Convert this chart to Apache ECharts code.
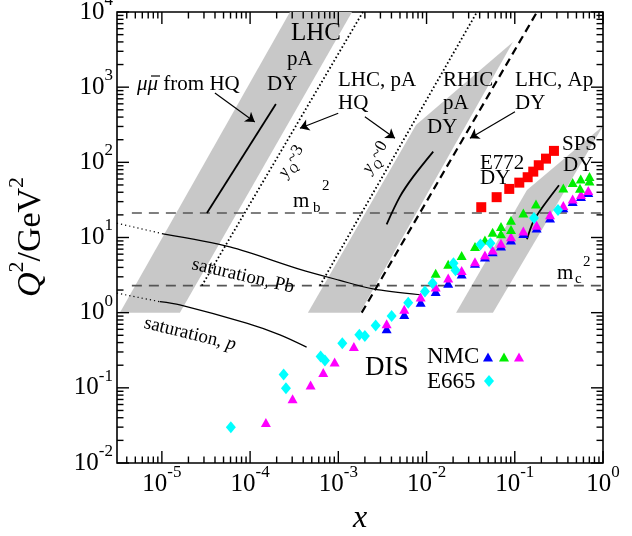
<!DOCTYPE html>
<html><head><meta charset="utf-8">
<script src="https://cdn.jsdelivr.net/npm/echarts@6/dist/echarts.min.js"></script>
<style>html,body{margin:0;padding:0;background:#fff}#c{width:632px;height:536px}</style>
</head><body><div id="c"></div>
<script>
// ---------------- axes ----------------
const xMin = 3.1e-6, xMax = 1;
const yMin = 1e-2, yMax = 1e4;
const xMajorTicks = [1e-5, 1e-4, 1e-3, 1e-2, 1e-1, 1];
const yMajorTicks = [1e-2, 1e-1, 1, 10, 100, 1000, 10000];
const minorMultipliers = [2, 3, 4, 5, 6, 7, 8, 9];

// ---------------- data: DIS ----------------
const e665X = [6.05e-5, 2.40e-4, 2.55e-4, 6.30e-4, 7.05e-4, 1.11e-3, 1.73e-3, 2.00e-3, 2.65e-3, 4.02e-3, 6.20e-3, 9.59e-3, 0.0117, 0.0202, 0.0213, 0.0408, 0.0530, 0.165, 0.309];
const e665Y = [0.030, 0.150, 0.099, 0.261, 0.231, 0.393, 0.507, 0.491, 0.674, 0.906, 1.36, 1.91, 2.47, 4.55, 3.67, 8.05, 8.40, 18.2, 23.3];

const nmcBlueX = [3.53e-3, 5.59e-3, 8.57e-3, 0.0127, 0.0176, 0.0250, 0.0354, 0.0459, 0.0561, 0.0698, 0.0906, 0.125, 0.177, 0.251, 0.355, 0.453, 0.563, 0.681];
const nmcBlueY = [0.609, 0.949, 1.38, 1.91, 2.47, 3.28, 4.55, 5.52, 6.44, 7.73, 9.29, 11.3, 13.4, 18.2, 24.8, 30.2, 35.2, 39.8];

const nmcMagX = [1.51e-4, 3.03e-4, 4.85e-4, 6.75e-4, 9.08e-4, 1.50e-3, 3.53e-3, 5.59e-3, 8.57e-3, 0.0127, 0.0176, 0.0250, 0.0354, 0.0459, 0.0561, 0.0698, 0.0906, 0.125, 0.177, 0.251, 0.355, 0.453, 0.563, 0.681];
const nmcMagY = [0.0346, 0.0714, 0.109, 0.160, 0.220, 0.354, 0.710, 1.11, 1.62, 2.20, 2.90, 3.65, 4.74, 5.87, 6.84, 8.40, 10.2, 12.2, 14.5, 20.0, 26.7, 32.6, 37.4, 42.3];

const nmcGreenX = [0.0127, 0.0176, 0.0250, 0.0354, 0.0459, 0.0561, 0.0698, 0.0698, 0.0906, 0.0906, 0.125, 0.174, 0.355, 0.453, 0.549, 0.559, 0.703, 0.703];
const nmcGreenY = [3.35, 4.42, 5.78, 7.61, 9.29, 11.7, 14.0, 11.2, 16.9, 12.8, 21.2, 28.0, 45.7, 54.0, 45.3, 60.1, 65.0, 56.6];

// ---------------- data: Drell-Yan E772 ----------------
const e772X = [0.0417, 0.0623, 0.0866, 0.1125, 0.140, 0.162, 0.187, 0.226, 0.278];
const e772Y = [25.3, 34.4, 44.3, 53.7, 63.4, 75.2, 91.5, 112, 142];

// ---------------- kinematic bands (x, Q^2 vertices) ----------------
const bandLHC = [[3.34e-6, 1], [1.60e-5, 1], [1.43e-3, 1e4], [2.83e-4, 1e4]];
const bandRHIC = [[4.52e-4, 1], [1.76e-3, 1], [0.0954, 3990], [7.59e-3, 314]];
const bandSPS = [[0.0216, 1], [0.0566, 1], [1, 305], [0.1375, 43.0]];

// ---------------- curves ----------------
const mb2 = 21.2, mc2 = 2.29;
const mb2Line = [[4.57e-6, mb2], [1, mb2]];
const mc2Line = [[4.57e-6, mc2], [1, mc2]];
const muHQLine = [[3.24e-5, 21.2], [1.96e-4, 598]];
const yq3Line = [[2.84e-5, mc2], [1.90e-3, 1e4]];
const yq0Line = [[6.18e-4, mc2], [0.0373, 1e4]];
const dashedLine = [[1.84e-3, 1], [0.1786, 1e4]];
const rhicCurve = [[3.53e-3, 15.0], [4.99e-3, 35.0], [7.07e-3, 64.5], [0.0119, 139]];
const spsCurve = [[0.1375, 9.5], [0.162, 16.3], [0.202, 24.5], [0.317, 49.6]];
const satPbDotted = [[3.09e-6, 15.5], [1.03e-5, 11.2]];
const satPbSolid = [[1.03e-5, 11.2], [5.90e-5, 7.50], [3.67e-4, 3.77], [1.04e-3, 2.69], [2.47e-3, 2.07], [8.41e-3, 1.73]];
const satPDotted = [[3.09e-6, 1.82], [9.49e-6, 1.40]];
const satPSolid = [[9.49e-6, 1.40], [1.60e-5, 1.27], [9.12e-5, 0.725], [2.18e-4, 0.507], [4.37e-4, 0.348]];
const arrows = [
  [[3.99e-5, 837], [1.13e-4, 345]],
  [[9.97e-4, 450], [3.67e-4, 284]],
  [[2.00e-3, 405], [4.38e-3, 209]],
  [[0.1005, 472], [0.0310, 209]]
];

// ---------------- build ----------------
const FONT = '"Liberation Serif", "Times New Roman", serif';
const zip = (a, b) => a.map((v, i) => [v, b[i]]);
const bands = [bandLHC, bandRHIC, bandSPS];

const tickData = [];
xMajorTicks.forEach(v => tickData.push([v, 1, 0]));
yMajorTicks.forEach(v => tickData.push([0.01, v, 2]));
for (let d = -6; d < 0; d++) minorMultipliers.forEach(m => {
  const v = m * Math.pow(10, d);
  if (v > xMin && v < xMax) tickData.push([v, 1, 1]);
});
for (let d = -2; d < 4; d++) minorMultipliers.forEach(m => {
  tickData.push([0.01, m * Math.pow(10, d), 3]);
});

function powLabel(v) {
  const l = Math.log10(v), e = Math.round(l);
  if (Math.abs(l - e) > 1e-6) return '';
  return '{b|10}{s|' + e + '}';
}
const labelRich = {
  b: { fontFamily: FONT, fontSize: 25, color: '#000', lineHeight: 40 },
  s: { fontFamily: FONT, fontSize: 17, color: '#000', lineHeight: 20, verticalAlign: 'top' }
};

function line(data, color, width, type, z) {
  return { type: 'line', data, symbol: 'none', showSymbol: false, silent: true, z: z || 3,
    lineStyle: { color, width, type: type || 'solid' } };
}
function scatter(data, symbol, size, color, z) {
  return { type: 'scatter', data, symbol, symbolSize: size, silent: true, z: z || 5,
    itemStyle: { color, opacity: 1 } };
}

function txt(x, y, text, size, opt) {
  opt = opt || {};
  return { type: 'text', x, y, rotation: opt.rot || 0, z: 100, silent: true,
    style: { text, fill: '#000', font: (opt.italic ? 'italic ' : '') + size + 'px ' + FONT,
      textAlign: opt.align || 'left', textVerticalAlign: 'middle', rich: opt.rich } };
}
const graphics = [
  txt(291, 33, 'LHC', 25),
  txt(287, 59, 'pA', 21),
  txt(267, 84, 'DY', 21),
  txt(137, 84, '{i|μμ} from HQ', 21, { rich: { i: { fontFamily: FONT, fontSize: 21, fontStyle: 'italic' } } }),
  { type: 'line', z: 100, shape: { x1: 151, y1: 76, x2: 160, y2: 76 }, style: { stroke: '#000', lineWidth: 1.2 } },
  txt(338, 80, 'LHC, pA', 21),
  txt(338, 103, 'HQ', 21),
  txt(443, 80, 'RHIC', 21),
  txt(443, 103, 'pA', 21),
  txt(427, 127, 'DY', 21),
  txt(515, 80, 'LHC, Ap', 21),
  txt(515, 103, 'DY', 21),
  txt(562, 144, 'SPS', 21),
  txt(563, 165, 'DY', 21),
  txt(480, 163, 'E772', 21),
  txt(480, 178, 'DY', 21),
  txt(365, 368, 'DIS', 27),
  txt(427, 357, 'NMC', 23),
  txt(427, 382, 'E665', 23),
  txt(293, 201, 'm', 21), txt(313, 208, 'b', 15), txt(322, 186, '2', 15),
  txt(557, 273, 'm', 21), txt(575, 279, 'c', 15), txt(583, 262, '2', 15),
  txt(243, 276, 'saturation, Pb', 19, { align: 'center', rot: -0.229 }),
  txt(190, 334, '{n|saturation, }{i|p}', 19, { align: 'center', rot: -0.24, rich: {
    n: { fontFamily: FONT, fontSize: 19 }, i: { fontFamily: FONT, fontSize: 19, fontStyle: 'italic' } } }),
  txt(291, 161, '{i|y}{q|Q}{n|~3}', 17, { align: 'center', rot: 1.04, rich: {
    i: { fontFamily: FONT, fontSize: 17, fontStyle: 'italic' },
    q: { fontFamily: FONT, fontSize: 12, fontStyle: 'italic', verticalAlign: 'bottom', lineHeight: 26 },
    n: { fontFamily: FONT, fontSize: 17 } } }),
  txt(375, 157, '{i|y}{q|Q}{n|~0}', 17, { align: 'center', rot: 1.04, rich: {
    i: { fontFamily: FONT, fontSize: 17, fontStyle: 'italic' },
    q: { fontFamily: FONT, fontSize: 12, fontStyle: 'italic', verticalAlign: 'bottom', lineHeight: 26 },
    n: { fontFamily: FONT, fontSize: 17 } } }),
  txt(31, 237, '{q|Q}{s|2}{n|/GeV}{s|2}', 34, { align: 'center', rot: Math.PI / 2, rich: {
    q: { fontFamily: FONT, fontSize: 34, fontStyle: 'italic', lineHeight: 50 },
    n: { fontFamily: FONT, fontSize: 34, lineHeight: 50 },
    s: { fontFamily: FONT, fontSize: 22, verticalAlign: 'top', lineHeight: 28 } } }),
  txt(360, 519, 'x', 32, { align: 'center', italic: true }),
  // legend symbols
  { type: 'polygon', z: 100, shape: { points: [[483, 361.5], [493, 361.5], [488, 352.5]] }, style: { fill: '#0000ff' } },
  { type: 'polygon', z: 100, shape: { points: [[499, 361.5], [509, 361.5], [504, 352.5]] }, style: { fill: '#00ee00' } },
  { type: 'polygon', z: 100, shape: { points: [[514, 361.5], [524, 361.5], [519, 352.5]] }, style: { fill: '#ff00ff' } },
  { type: 'polygon', z: 100, shape: { points: [[489, 375], [494, 381], [489, 387], [484, 381]] }, style: { fill: '#00ffff' } }
];

const option = {
  animation: false,
  backgroundColor: '#fff',
  grid: { left: 117, right: 29, top: 12, bottom: 73, show: true, borderColor: '#000', borderWidth: 1.6,
    backgroundColor: 'transparent', outerBoundsMode: 'none' },
  xAxis: { type: 'log', logBase: 10, min: xMin, max: xMax,
    axisLine: { show: false }, axisTick: { show: false }, splitLine: { show: false },
    axisLabel: { formatter: powLabel, rich: labelRich, margin: 1, showMinLabel: true, showMaxLabel: true, hideOverlap: false } },
  yAxis: { type: 'log', logBase: 10, min: yMin, max: yMax, interval: 1,
    axisLine: { show: false }, axisTick: { show: false }, splitLine: { show: false },
    axisLabel: { formatter: powLabel, rich: labelRich, margin: 4, showMinLabel: true, showMaxLabel: true, hideOverlap: false } },
  graphic: graphics,
  series: [
    { type: 'custom', coordinateSystem: 'cartesian2d', clip: true, silent: true, z: 1,
      data: bands.map((b, i) => [b[0][0], b[0][1], i]),
      renderItem: (params, api) => ({ type: 'polygon',
        shape: { points: bands[params.dataIndex].map(p => api.coord(p)) },
        style: { fill: '#c8c8c8' } }) },
    line(mb2Line, '#555', 1.6, [10, 7], 2),
    line(mc2Line, '#555', 1.6, [10, 7], 2),
    line(muHQLine, '#000', 1.8),
    line(yq3Line, '#000', 1.8, [1.6, 2.4]),
    line(yq0Line, '#000', 1.8, [1.6, 2.4]),
    line(dashedLine, '#000', 2.2, [8, 5]),
    Object.assign(line(rhicCurve, '#000', 1.8), { smooth: 0.3 }),
    Object.assign(line(spsCurve, '#000', 1.8), { smooth: 0.3 }),
    line(satPbDotted, '#000', 1.2, [1.2, 3]),
    Object.assign(line(satPbSolid, '#000', 1.2), { smooth: 0.3 }),
    line(satPDotted, '#000', 1.2, [1.2, 3]),
    Object.assign(line(satPSolid, '#000', 1.2), { smooth: 0.3 }),
    { type: 'lines', coordinateSystem: 'cartesian2d', silent: true, z: 3,
      data: arrows.map(a => ({ coords: a })), symbol: ['none', 'arrow'], symbolSize: 9,
      lineStyle: { color: '#000', width: 1.2, opacity: 1, curveness: 0 } },
    scatter(zip(e772X, e772Y), 'rect', 10, '#ff0000'),
    scatter(zip(nmcBlueX, nmcBlueY), 'triangle', [10, 9], '#0000ff'),
    scatter(zip(nmcMagX, nmcMagY), 'triangle', [10, 9], '#ff00ff'),
    scatter(zip(nmcGreenX, nmcGreenY), 'triangle', [10, 9], '#00ee00'),
    scatter(zip(e665X, e665Y), 'diamond', [10, 12], '#00ffff'),
    { type: 'custom', coordinateSystem: 'cartesian2d', clip: false, silent: true, z: 10,
      data: tickData,
      renderItem: (params, api) => {
        const cs = params.coordSys, k = api.value(2);
        const st = { stroke: '#000', lineWidth: 1.4 };
        if (k < 2) {
          const px = api.coord([api.value(0), 1])[0], len = k === 0 ? 12 : 6.5;
          const b = cs.y + cs.height;
          return { type: 'group', children: [
            { type: 'line', shape: { x1: px, y1: b, x2: px, y2: b - len }, style: st },
            { type: 'line', shape: { x1: px, y1: cs.y, x2: px, y2: cs.y + len }, style: st } ] };
        } else {
          const py = api.coord([0.01, api.value(1)])[1], len = k === 2 ? 12 : 6.5;
          const r = cs.x + cs.width;
          return { type: 'group', children: [
            { type: 'line', shape: { x1: cs.x, y1: py, x2: cs.x + len, y2: py }, style: st },
            { type: 'line', shape: { x1: r, y1: py, x2: r - len, y2: py }, style: st } ] };
        }
      } }
  ]
};
const chart = echarts.init(document.getElementById('c'), null, { renderer: 'canvas' });
chart.setOption(option);
</script></body></html>
